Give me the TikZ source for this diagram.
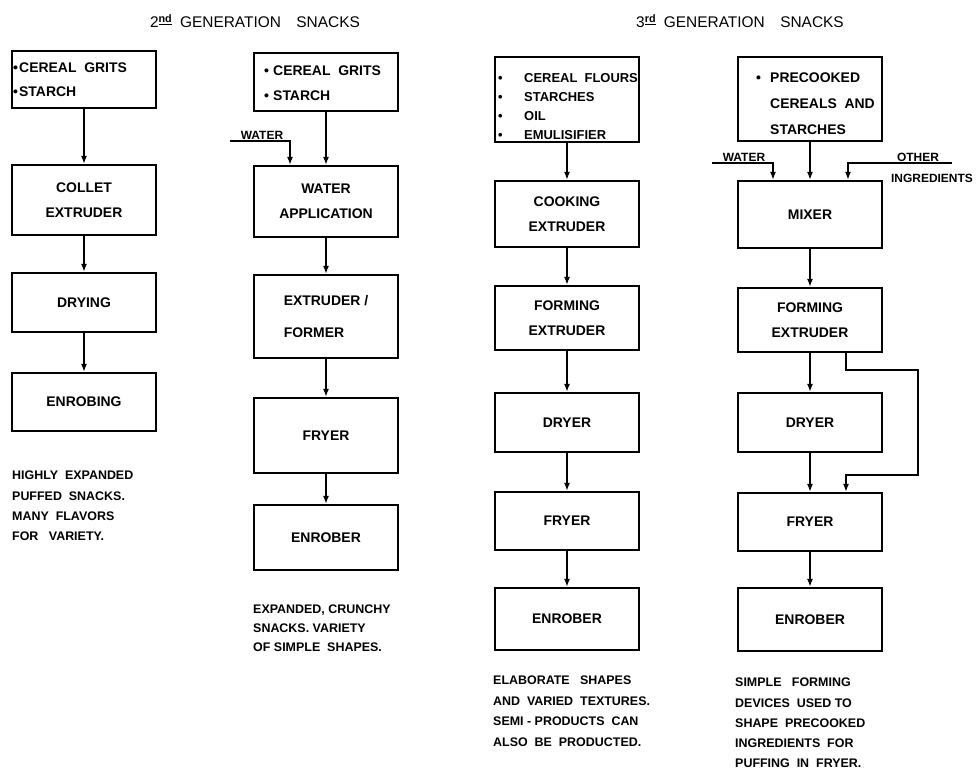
\documentclass[tikz,border=0pt]{standalone}
\usepackage{fontspec}
\setmainfont{Liberation Sans}
\usetikzlibrary{arrows.meta}
\newcommand{\bul}[1]{\makebox[#1][l]{\textbullet}}
\begin{document}
\begin{tikzpicture}[x=1bp,y=-1bp,
  box/.style={draw,line width=2.2bp,minimum width=144bp,inner sep=0pt,align=center,
    font=\bfseries\fontsize{14}{25}\selectfont},
  intext/.style={anchor=north west,inner sep=0pt,align=left,font=\bfseries\fontsize{14}{24}\selectfont},
  flow/.style={line width=1.8bp,-{Latex[length=8bp,width=6bp]}},
  note/.style={anchor=north west,inner sep=0pt,align=left,font=\bfseries\fontsize{12.5}{20.3}\selectfont},
  lab/.style={inner sep=0pt,font=\bfseries\fontsize{12}{14}\selectfont},
  title/.style={inner sep=0pt,font=\fontsize{15.5}{18}\selectfont},
]
\useasboundingbox (0,0) rectangle (980,773);

% titles
\node[title] (t2) at (255,21) {2\textsuperscript{\underline{\textbf{nd}}}\enspace GENERATION\quad SNACKS};
\node[title] (t3) at (740,21) {3\textsuperscript{\underline{\textbf{rd}}}\enspace GENERATION\quad SNACKS};

% ---------- column 1
\node[box,minimum height=57bp] (in1) at (84,79.5) {};
\node[intext] (in1t) at (13,63) {\bul{6bp}CEREAL\ \ GRITS\\\bul{6bp}STARCH};
\node[box,minimum height=70bp] (collet) at (84,200) {COLLET\\EXTRUDER};
\node[box,minimum height=59bp] (drying) at (84,302.5) {DRYING};
\node[box,minimum height=58bp] (enrobing) at (84,402) {ENROBING};
\node[note] (n1) at (12,471) {HIGHLY\ \ EXPANDED\\PUFFED\ \ SNACKS.\\MANY\ \ FLAVORS\\FOR\ \ \ VARIETY.};
\draw[flow] (in1) -- (collet);
\draw[flow] (collet) -- (drying);
\draw[flow] (drying) -- (enrobing);

% ---------- column 2
\node[box,minimum height=58bp] (in2) at (326,82) {};
\node[intext,font=\bfseries\fontsize{14}{25}\selectfont] (in2t) at (264,66) {\bul{9bp}CEREAL\ \ GRITS\\\bul{9bp}STARCH};
\node[box,minimum height=71bp] (wapp) at (326,201.5) {WATER\\APPLICATION};
\node[box,minimum height=83bp,align=left,font=\bfseries\fontsize{14}{32}\selectfont] (exfo) at (326,316.5) {EXTRUDER /\\FORMER};
\node[box,minimum height=75bp] (fryer2) at (326,435.5) {FRYER};
\node[box,minimum height=65bp] (enrober2) at (326,537.5) {ENROBER};
\node[note,font=\bfseries\fontsize{12.5}{19}\selectfont] (n2) at (253,605) {EXPANDED, CRUNCHY\\SNACKS.\ VARIETY\\OF SIMPLE\ \ SHAPES.};
\coordinate (w2) at (230,141);
\node[lab,anchor=south] (w2l) at (262,140) {WATER};
\draw[flow] (w2) -| ([xshift=-36bp]wapp.north);
\draw[flow] (in2) -- (wapp);
\draw[flow] (wapp) -- (exfo);
\draw[flow] (exfo) -- (fryer2);
\draw[flow] (fryer2) -- (enrober2);

% ---------- column 3
\node[box,minimum height=85bp] (in3) at (567,99.5) {};
\node[intext,font=\bfseries\fontsize{13}{19}\selectfont] (in3t) at (498,73) {\bul{26bp}CEREAL\ \ FLOURS\\\bul{26bp}STARCHES\\\bul{26bp}OIL\\\bul{26bp}EMULISIFIER};
\node[box,minimum height=66bp] (cook) at (567,214) {COOKING\\EXTRUDER};
\node[box,minimum height=64bp] (form3) at (567,318) {FORMING\\EXTRUDER};
\node[box,minimum height=59bp] (dryer3) at (567,422.5) {DRYER};
\node[box,minimum height=58bp] (fryer3) at (567,521) {FRYER};
\node[box,minimum height=62bp] (enrober3) at (567,619) {ENROBER};
\node[note,font=\bfseries\fontsize{12.5}{20.5}\selectfont] (n3) at (493,676) {ELABORATE\ \ \ SHAPES\\AND\ \ VARIED\ \ TEXTURES.\\SEMI - PRODUCTS\ \ CAN\\ALSO\ \ BE\ \ PRODUCTED.};
\draw[flow] (in3) -- (cook);
\draw[flow] (cook) -- (form3);
\draw[flow] (form3) -- (dryer3);
\draw[flow] (dryer3) -- (fryer3);
\draw[flow] (fryer3) -- (enrober3);

% ---------- column 4
\node[box,minimum height=84bp] (in4) at (810,99) {};
\node[intext,font=\bfseries\fontsize{14}{26}\selectfont] (in4t) at (756,73) {\bul{14bp}PRECOOKED\\\hspace*{14bp}CEREALS\ \ AND\\\hspace*{14bp}STARCHES};
\node[box,minimum height=67bp] (mixer) at (810,214.5) {MIXER};
\node[box,minimum height=64bp] (form4) at (810,320) {FORMING\\EXTRUDER};
\node[box,minimum height=59bp] (dryer4) at (810,422.5) {DRYER};
\node[box,minimum height=58bp] (fryer4) at (810,522) {FRYER};
\node[box,minimum height=63bp] (enrober4) at (810,619.5) {ENROBER};
\node[note,font=\bfseries\fontsize{12.5}{20.2}\selectfont] (n4) at (735,678) {SIMPLE\ \ \ FORMING\\DEVICES\ \ USED\ TO\\SHAPE\ \ PRECOOKED\\INGREDIENTS\ \ FOR\\PUFFING\ \ IN\ \ FRYER.};
\coordinate (w4) at (712,163);
\node[lab,anchor=south] (w4l) at (744,162) {WATER};
\coordinate (o4) at (952,163);
\node[lab,anchor=south] (o4l) at (918,162) {OTHER};
\node[lab] (i4l) at (932,178) {INGREDIENTS};
\draw[flow] (w4) -| ([xshift=-37bp]mixer.north);
\draw[flow] (o4) -| ([xshift=38bp]mixer.north);
\draw[flow] (in4) -- (mixer);
\draw[flow] (mixer) -- (form4);
\draw[flow] (form4) -- (dryer4);
\draw[flow] (dryer4) -- (fryer4);
\draw[flow] (fryer4) -- (enrober4);
\coordinate (bp1) at (918,370);
\coordinate (bp2) at (846,475);
\draw[flow] ([xshift=36bp]form4.south) |- (bp1) |- (bp2) -- ([xshift=36bp]fryer4.north);
\end{tikzpicture}
\end{document}
